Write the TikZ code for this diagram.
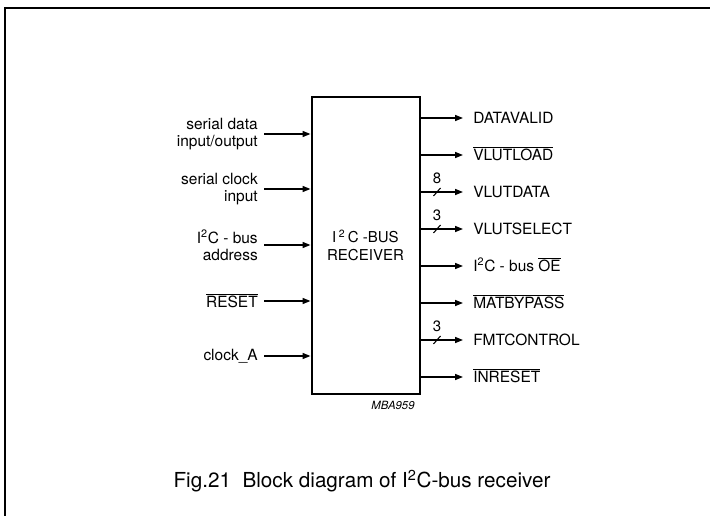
\documentclass[tikz,border=0pt]{standalone}
\usepackage{fontspec}
\setmainfont{TeX Gyre Heros}
\usetikzlibrary{arrows.meta}
\newcommand{\ovl}[1]{$\overline{\mbox{#1}}$}
\begin{document}
\begin{tikzpicture}[
    x=0.75pt, y=-0.75pt,
    lbl/.style={font=\fontsize{11.6}{12.75}\selectfont, inner sep=0pt},
    inlbl/.style={lbl, anchor=east, align=right},
    outlbl/.style={lbl, anchor=west, text height=8.3pt, text depth=0pt},
    sig/.style={line width=1.1pt, -{Triangle[length=6pt,width=4.5pt]}},
    busno/.style={font=\fontsize{11.25}{12}\selectfont, inner sep=0pt},
    block/.style={draw, line width=1.5pt, minimum width=81pt, minimum height=222.75pt,
      align=center, font=\fontsize{11.25}{13.5}\selectfont},
  ]
    \useasboundingbox (0,0) rectangle (710,516);
    % frame
    \draw[line width=1.5pt] (5,516) -- (5,8) -- (710,8);
    % receiver block
    \node[block] (rx) at (365.5,245.5) {I\,\textsuperscript{2}\,C -BUS\\RECEIVER};
    \node[font=\fontsize{8.5}{10}\selectfont\itshape, inner sep=0pt] (code) at (393,405) {MBA959};
    % inputs
    \foreach \i/\y/\txt in {
      1/134/{serial data\\input/output}, 2/189/{serial clock\\input},
      3/245/{I\textsuperscript{2}C - bus\\address}, 4/301/{\ovl{RESET}}, 5/356/{clock\_A}}
    {
      \node[inlbl] (il\i) at (258,\y) {\txt};
      \coordinate (ia\i) at (264,\y);
      \draw[sig] (ia\i) -- (ia\i -| rx.west);
    }
    % outputs
    \foreach \i/\y/\txt in {
      1/118/DATAVALID, 2/155/{\ovl{VLUTLOAD}}, 3/192/VLUTDATA, 4/229/VLUTSELECT,
      5/266/{I\textsuperscript{2}C - bus \ovl{OE}}, 6/303/{\ovl{MATBYPASS}},
      7/340/FMTCONTROL, 8/377/{\ovl{INRESET}}}
    {
      \coordinate (oa\i) at (463,\y);
      \node[outlbl] (ol\i) at (473,\y) {\txt};
      \draw[sig] (oa\i -| rx.east) -- (oa\i);
    }
    % bus widths
    \foreach \i/\w in {3/8, 4/3, 7/3}
    {
      \coordinate (bm\i) at (437,0 |- oa\i);
      \draw[line width=0.8pt] ([shift={(-3.5,4)}]bm\i) -- ([shift={(3.5,-4)}]bm\i);
      \node[busno] (bn\i) at ([yshift=10.5pt]bm\i) {\w};
    }
    % caption
    \node[font=\fontsize{15.5}{18}\selectfont, inner sep=0pt] (cap) at (362,481)
      {Fig.21\ \ Block diagram of I\textsuperscript{2}C-bus receiver};
\end{tikzpicture}
\end{document}
